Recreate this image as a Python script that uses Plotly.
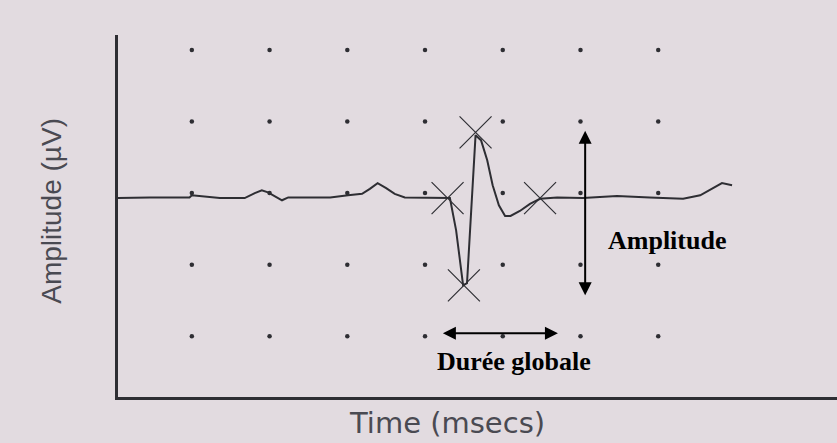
import plotly.graph_objects as go

# Signal trace (time in grid units, amplitude in grid units)
time_ms = [0.05, 0.46, 0.97, 1.00, 1.36, 1.68, 1.81, 1.90, 1.98, 2.07, 2.16, 2.24,
           2.39, 2.78, 3.01, 3.19, 3.29, 3.39, 3.50, 3.61, 3.74, 4.00, 4.19, 4.32,
           4.40, 4.49, 4.54, 4.60, 4.65, 4.72, 4.80, 4.87, 4.95, 5.03, 5.10, 5.22,
           5.35, 5.48, 5.70, 6.03, 6.47, 6.89, 7.32, 7.54, 7.71, 7.82, 7.95]
amplitude = [-0.07, -0.06, -0.06, -0.03, -0.07, -0.07, 0.00, 0.04, 0.01, -0.04, -0.10, -0.06,
             -0.06, -0.06, -0.03, -0.01, 0.06, 0.14, 0.07, -0.01, -0.06, -0.06, -0.06, -0.07,
             -0.52, -1.29, -1.26, -0.10, 0.81, 0.74, 0.46, 0.11, -0.17, -0.32, -0.32, -0.25,
             -0.15, -0.08, -0.06, -0.07, -0.04, -0.06, -0.08, -0.03, 0.08, 0.14, 0.11]

# Cross markers on the motor unit potential
cross_x = [4.29, 4.65, 4.50, 5.48]
cross_y = [-0.07, 0.85, -1.29, -0.07]

# Dotted grid
grid_cols = [1, 2, 3, 4, 5, 6, 7]
grid_rows = [2, 1, 0, -1, -2]

# Measurement arrows
amp_arrow_x = 6.06
amp_arrow_y = [0.87, -1.45]
dur_arrow_y = -1.96
dur_arrow_x = [4.21, 5.71]

ink = "#2e2e33"
paper = "#e2dbe0"
title_col = "#4a4a52"

fig = go.Figure()

gx = [c for r in grid_rows for c in grid_cols]
gy = [r for r in grid_rows for c in grid_cols]
fig.add_trace(go.Scatter(x=gx, y=gy, mode="markers",
                         marker=dict(size=4.5, color=ink), hoverinfo="skip"))

fig.add_trace(go.Scatter(x=time_ms, y=amplitude, mode="lines",
                         line=dict(color=ink, width=2), hoverinfo="skip"))

fig.add_trace(go.Scatter(x=cross_x, y=cross_y, mode="markers",
                         marker=dict(symbol="x-thin", size=32, color=ink,
                                     line=dict(color=ink, width=1.2)),
                         hoverinfo="skip"))

# Double-headed arrows
fig.add_annotation(x=amp_arrow_x, y=amp_arrow_y[0], ax=amp_arrow_x, ay=amp_arrow_y[1],
                   xref="x", yref="y", axref="x", ayref="y", text="",
                   showarrow=True, arrowhead=2, startarrowhead=2, arrowside="end+start",
                   arrowsize=1.3, arrowwidth=2, arrowcolor="black")
fig.add_annotation(x=dur_arrow_x[1], y=dur_arrow_y, ax=dur_arrow_x[0], ay=dur_arrow_y,
                   xref="x", yref="y", axref="x", ayref="y", text="",
                   showarrow=True, arrowhead=2, startarrowhead=2, arrowside="end+start",
                   arrowsize=1.3, arrowwidth=2, arrowcolor="black")

serif = "Liberation Serif, Times New Roman, serif"
fig.add_annotation(x=7.11, y=-0.66, xref="x", yref="y", text="<b>Amplitude</b>",
                   showarrow=False, font=dict(family=serif, size=26, color="black"))
fig.add_annotation(x=5.15, y=-2.36, xref="x", yref="y", text="<b>Durée globale</b>",
                   showarrow=False, font=dict(family=serif, size=26, color="black"))

# Axis titles (positions relative to the plot area)
fig.add_annotation(x=0.458, y=-0.072, xref="paper", yref="paper",
                   text="Time (msecs)", showarrow=False, xanchor="center", yanchor="middle",
                   font=dict(family="DejaVu Sans, sans-serif", size=29, color=title_col))
fig.add_annotation(x=-0.092, y=0.514, xref="paper", yref="paper",
                   text="Amplitude (µV)", showarrow=False, textangle=-90,
                   xanchor="center", yanchor="middle",
                   font=dict(family="Liberation Sans, Arial, sans-serif", size=28, color=title_col))

fig.update_layout(
    width=837, height=443,
    margin=dict(l=118, r=0, t=35, b=46),
    paper_bgcolor=paper, plot_bgcolor=paper,
    showlegend=False,
)
fig.update_xaxes(range=[0.05, 9.3], showgrid=False, zeroline=False, showticklabels=False,
                 ticks="", showline=True, linecolor=ink, linewidth=2.5)
fig.update_yaxes(range=[-2.85, 2.21], showgrid=False, zeroline=False, showticklabels=False,
                 ticks="", showline=True, linecolor=ink, linewidth=2.5)

fig.write_html("out.html", config={"displayModeBar": False},
               post_script="document.body.style.margin='0';document.body.style.background='%s';" % paper)
